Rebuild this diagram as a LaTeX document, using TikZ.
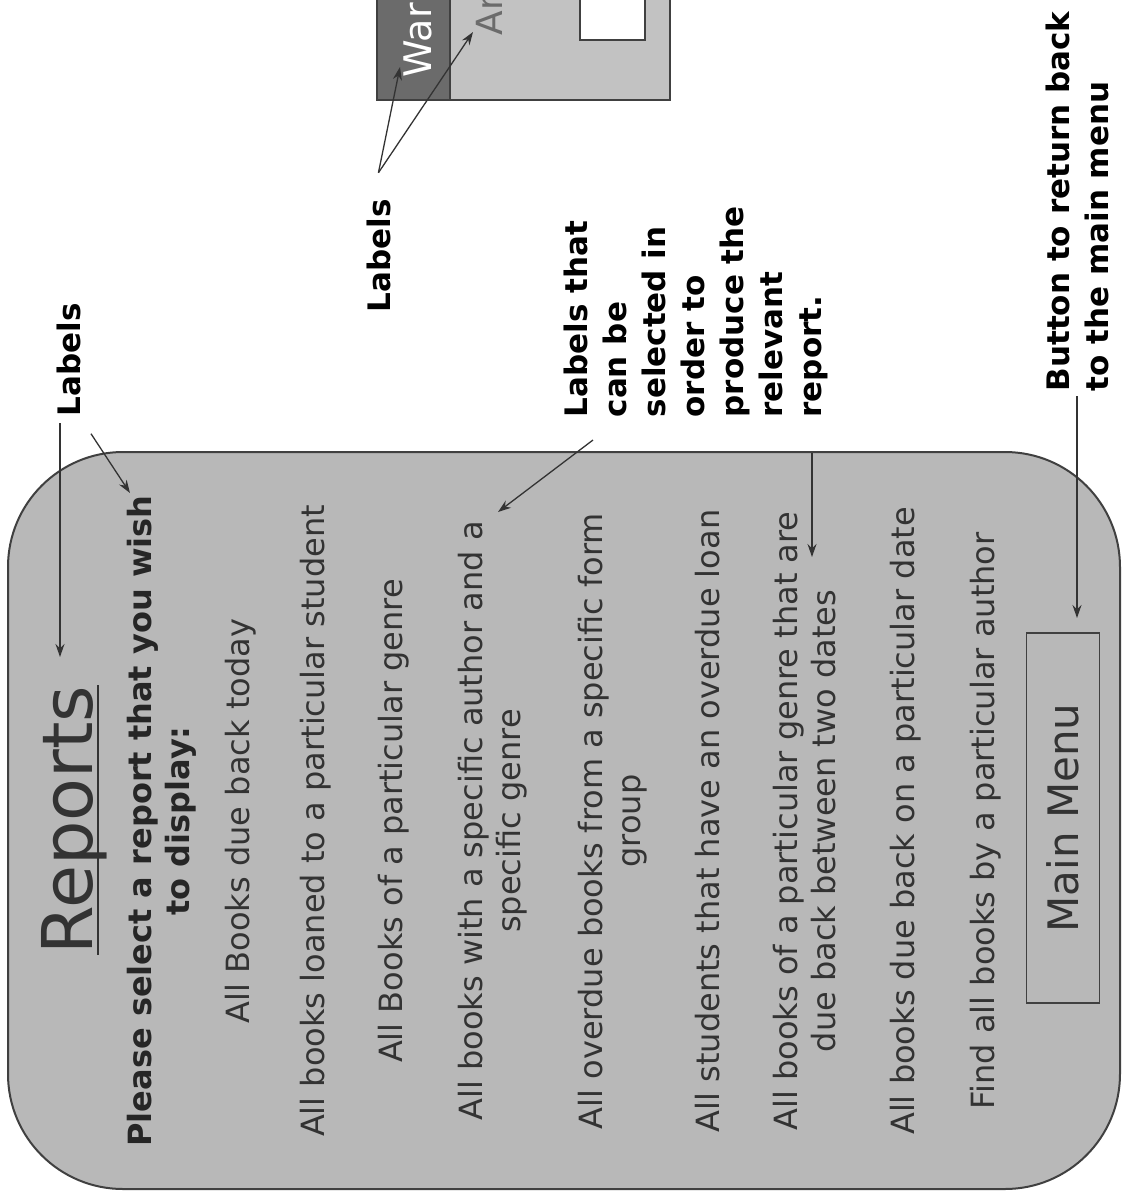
\documentclass[tikz,border=0pt]{standalone}
\usepackage{fontspec}
\setmainfont{DejaVu Sans}
\usepackage{tikz}
\usetikzlibrary{arrows.meta}
\definecolor{fond}{rgb}{0.72,0.72,0.72}
\definecolor{cadre}{rgb}{0.25,0.25,0.25}
\definecolor{encre}{rgb}{0.2,0.2,0.2}
\definecolor{bande}{rgb}{0.42,0.42,0.42}
\definecolor{clair}{rgb}{0.76,0.76,0.76}

\begin{document}
\begin{tikzpicture}[x=1pt, y=-1pt, >={Stealth[length=13pt,width=9pt]}, line width=1.3pt]
  \tikzstyle{item}=[rotate=90, inner sep=0pt, align=center, text=encre, font=\fontsize{32}{38}\selectfont]
  \tikzstyle{note}=[rotate=90, inner sep=0pt, align=left, text=black, font=\fontsize{31}{39}\selectfont\bfseries]
  \tikzstyle{fleche}=[->, draw=encre]

  \useasboundingbox (0,0) rectangle (1128,1195);
  \clip (0,0) rectangle (1128,1195);

  % window sketch, cut by the top edge
  \fill[clair] (450,-10) rectangle (670,100);
  \fill[bande] (377,-10) rectangle (450,100);
  \draw[cadre, line width=1.5pt] (377,-10) rectangle (670,100);
  \draw[cadre, line width=1.5pt] (450,-10) -- (450,100);
  \draw[cadre, fill=white, line width=1.5pt] (580,-10) rectangle (645,40);
  \node[rotate=90, anchor=base west, inner sep=0pt, text=white, font=\fontsize{38}{38}\selectfont] (Win1) at (431,78) {War};
  \node[rotate=90, anchor=base west, inner sep=0pt, text=bande, font=\fontsize{36}{36}\selectfont] (Win2) at (502,36) {Ar};

  % the reports form
  \draw[cadre, fill=fond, line width=2pt, rounded corners=115pt] (8,452) rectangle (1120,1189);

  \node[item, font=\fontsize{70}{70}\selectfont] (Title) at (74,820) {Reports};
  \draw[encre, line width=1.6pt] ([xshift=6pt]Title.base west) -- ([xshift=6pt]Title.base east);

  \node[item, text=black!85, font=\fontsize{32}{38}\selectfont\bfseries] (Please) at (162,821) {Please select a report that you wish\\to display:};
  \node[item] (Rep1) at (241,821) {All Books due back today};
  \node[item] (Rep2) at (316,821) {All books loaned to a particular student};
  \node[item] (Rep3) at (394,821) {All Books of a particular genre};
  \node[item] (Rep4) at (493,821) {All books with a specific author and a\\specific genre};
  \node[item] (Rep5) at (613,821) {All overdue books from a specific form\\group};
  \node[item] (Rep6) at (708,821) {All students that have an overdue loan};
  \node[item] (Rep7) at (805,821) {All books of a particular genre that are\\due back between two dates};
  \node[item] (Rep8) at (906,821) {All books due back on a particular date};
  \node[item] (Rep9) at (986,821) {Find all books by a particular author};

  \node[item, draw=cadre, line width=1.5pt, minimum width=370pt, minimum height=73pt, font=\fontsize{42}{42}\selectfont] (Menu) at (1063,818) {Main Menu};

  % notes round the form
  \node[note, anchor=base west] (Lab1) at (80,417) {Labels};
  \node[note, anchor=base west] (Lab2) at (390,313) {Labels};
  \node[note, anchor=north west] (Lab3) at (563,418) {Labels that\\can be\\selected in\\order to\\produce the\\relevant\\report.};
  \node[note, anchor=north west] (Lab4) at (1045,392) {Button to return back\\to the main menu};

  \coordinate (tipReports) at (60,657);
  \coordinate (tipWish) at (130,493);
  \coordinate (tipWar) at (400,67);
  \coordinate (tipAr) at (473,32);
  \coordinate (tipAuthor) at (498,512);
  \coordinate (tipGenre) at (812,557);
  \coordinate (tipMenu) at (1077,618);

  \draw[fleche, shorten <=6pt] (Lab1.base west -| tipReports) -- (tipReports);
  \draw[fleche, shorten <=20pt] (Lab1.base west) -- (tipWish);
  \draw[fleche] ([yshift=26pt]Lab2.east) -- (tipWar);
  \draw[fleche] ([yshift=26pt]Lab2.east) -- (tipAr);
  \draw[fleche] ([xshift=30pt,yshift=-22pt]Lab3.north west) -- (tipAuthor);
  \draw[fleche, shorten <=35pt] (Lab3.west -| tipGenre) -- (tipGenre);
  \draw[fleche, shorten <=4pt] (Lab4.west -| tipMenu) -- (tipMenu);

\end{tikzpicture}
\end{document}
